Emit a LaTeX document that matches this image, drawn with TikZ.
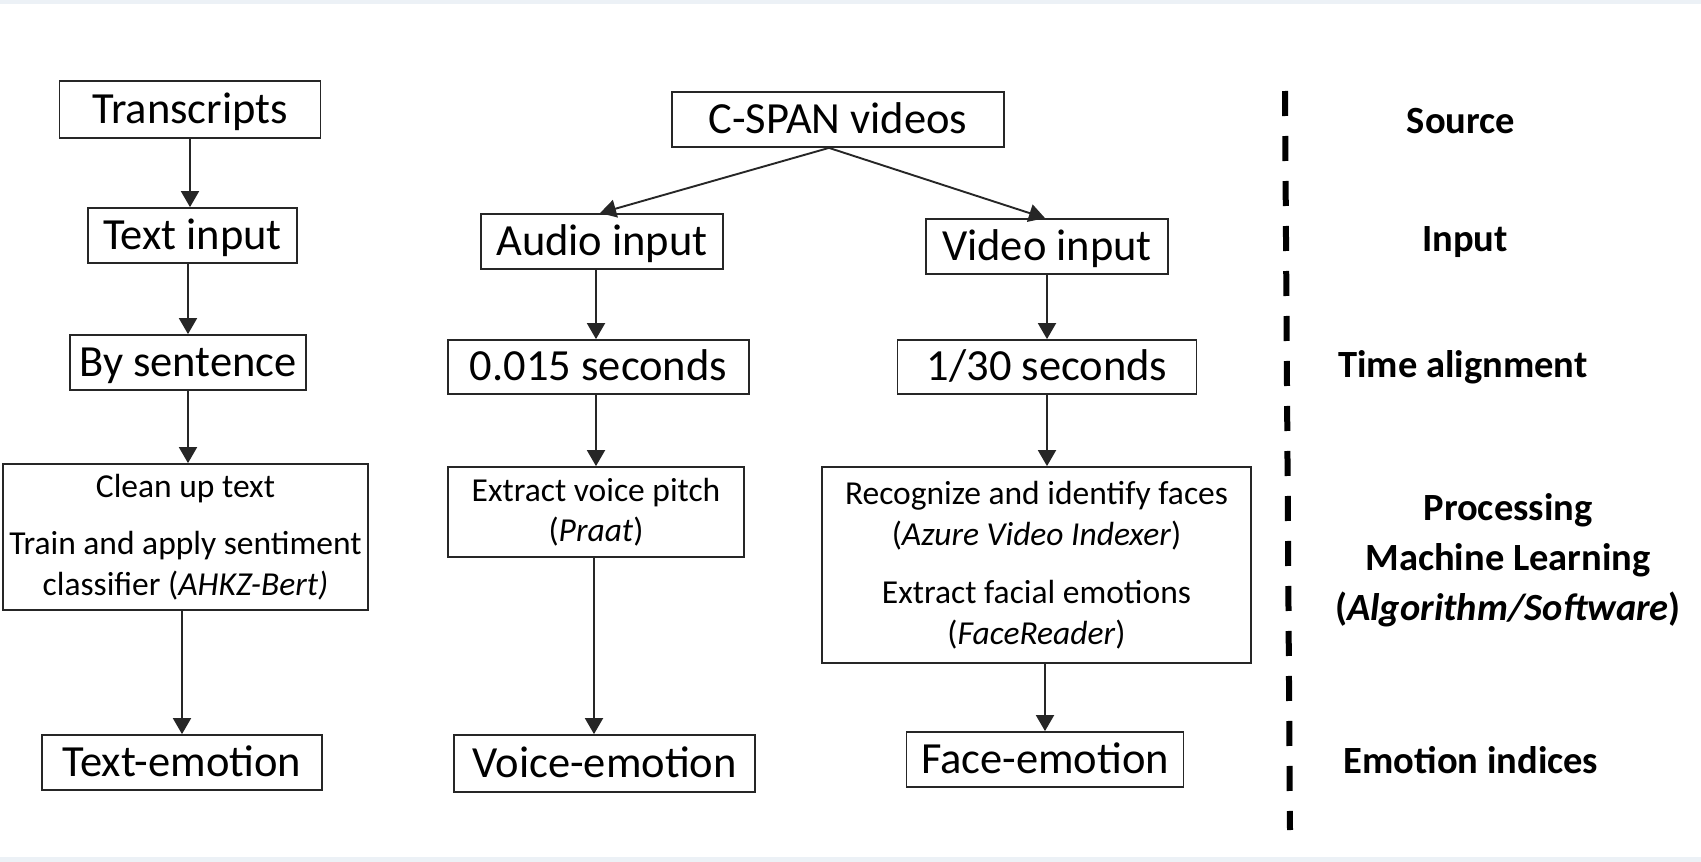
\documentclass[tikz,border=0pt]{standalone}
\usepackage{fontspec}
\setmainfont{Carlito}
\usetikzlibrary{arrows.meta}
\definecolor{edgegray}{RGB}{236,241,246}
\begin{document}
\begin{tikzpicture}[x=1pt,y=-1pt,
  box/.style={draw=black!85, line width=1.8pt, inner sep=0pt, align=center},
  big/.style={font=\fontsize{44.5}{53}\selectfont, text height=35.6pt, text depth=8.5pt},
  mid/.style={font=\fontsize{33.5}{40.5}\selectfont},
  lab/.style={font=\bfseries\fontsize{38.5}{50}\selectfont, anchor=base, inner sep=0pt},
  arr/.style={-{Triangle[width=18pt,length=16pt]}, line width=1.9pt, draw=black!85}]
\useasboundingbox (0,0) rectangle (1701,862);
\fill[white] (0,0) rectangle (1701,862);
\fill[edgegray] (0,0) rectangle (1701,4);
\fill[edgegray] (0,857) rectangle (1701,862);

% left column
\node[box,big,minimum width=261pt,minimum height=57pt] (trans) at (190,109.5) {Transcripts};
\node[box,big,minimum width=209pt,minimum height=55pt] (textin) at (192.5,235.5) {Text input};
\node[box,big,minimum width=236pt,minimum height=55pt] (bysent) at (188,362.5) {By sentence};
\node[box,mid,minimum width=365pt,minimum height=146pt] (clean) at (185.5,537) {Clean up text\\[17pt]Train and apply sentiment\\classifier (\textit{AHKZ-Bert)}};
\node[box,big,minimum width=280pt,minimum height=55pt] (textemo) at (182,762.5) {Text-emotion};

% middle column
\node[box,big,minimum width=332pt,minimum height=55pt] (cspan) at (838,119.5) {C-SPAN videos};
\node[box,big,minimum width=242pt,minimum height=55pt] (audio) at (602,241.5) {Audio input};
\node[box,big,minimum width=301pt,minimum height=54pt] (sec015) at (598.5,367) {0.015 seconds};
\node[box,mid,minimum width=296pt,minimum height=90pt] (pitch) at (596,512) {Extract voice pitch\\(\textit{Praat})};
\node[box,big,minimum width=301pt,minimum height=57pt] (voiceemo) at (604.5,763.5) {Voice-emotion};

% right column
\node[box,big,minimum width=242pt,minimum height=55pt] (video) at (1047,246.5) {Video input};
\node[box,big,minimum width=299pt,minimum height=54pt] (sec30) at (1047,367) {1/30 seconds};
\node[box,mid,minimum width=429pt,minimum height=196pt] (faces) at (1036.5,565) {Recognize and identify faces\\(\textit{Azure Video Indexer})\\[18pt]Extract facial emotions\\(\textit{FaceReader})};
\node[box,big,minimum width=277pt,minimum height=55pt] (faceemo) at (1045,759.5) {Face-emotion};

% connectors
\draw[arr] (trans.south) -- (trans.south |- textin.north);
\draw[arr] (bysent.north |- textin.south) -- (bysent.north);
\draw[arr] (bysent.south) -- (bysent.south |- clean.north);
\draw[arr] (textemo.north |- clean.south) -- (textemo.north);

\draw[arr] ([xshift=-9pt]cspan.south) -- ([xshift=-2pt]audio.north);
\draw[arr] ([xshift=-9pt]cspan.south) -- ([xshift=-2pt]video.north);
\draw[arr] (pitch.north |- audio.south) -- (pitch.north |- sec015.north);
\draw[arr] (pitch.north |- sec015.south) -- (pitch.north);
\draw[arr] ([xshift=-2pt]pitch.south) -- ([xshift=-2pt]pitch.south |- voiceemo.north);

\draw[arr] (video.south) -- (video.south |- sec30.north);
\draw[arr] (sec30.south) -- (sec30.south |- faces.north);
\draw[arr] (faceemo.north |- faces.south) -- (faceemo.north);

% separator
\coordinate (sepTop) at (1285,91);
\coordinate (sepBot) at (1290,830);
\draw[line width=6pt, dash pattern=on 25pt off 20pt] (sepTop) -- (sepBot);

% stage labels
\node[lab] (lsource) at (1461,133) {Source};
\node[lab] (linput) at (1465,251) {Input};
\node[lab] (ltime) at (1463,377) {Time alignment};
\node[font=\bfseries\fontsize{38.5}{50}\selectfont, align=center, inner sep=0pt] (lproc) at (1508,560) {Processing\\Machine Learning\\(\textit{Algorithm/Software})};
\node[lab] (lemo) at (1471,773) {Emotion indices};
\end{tikzpicture}
\end{document}
